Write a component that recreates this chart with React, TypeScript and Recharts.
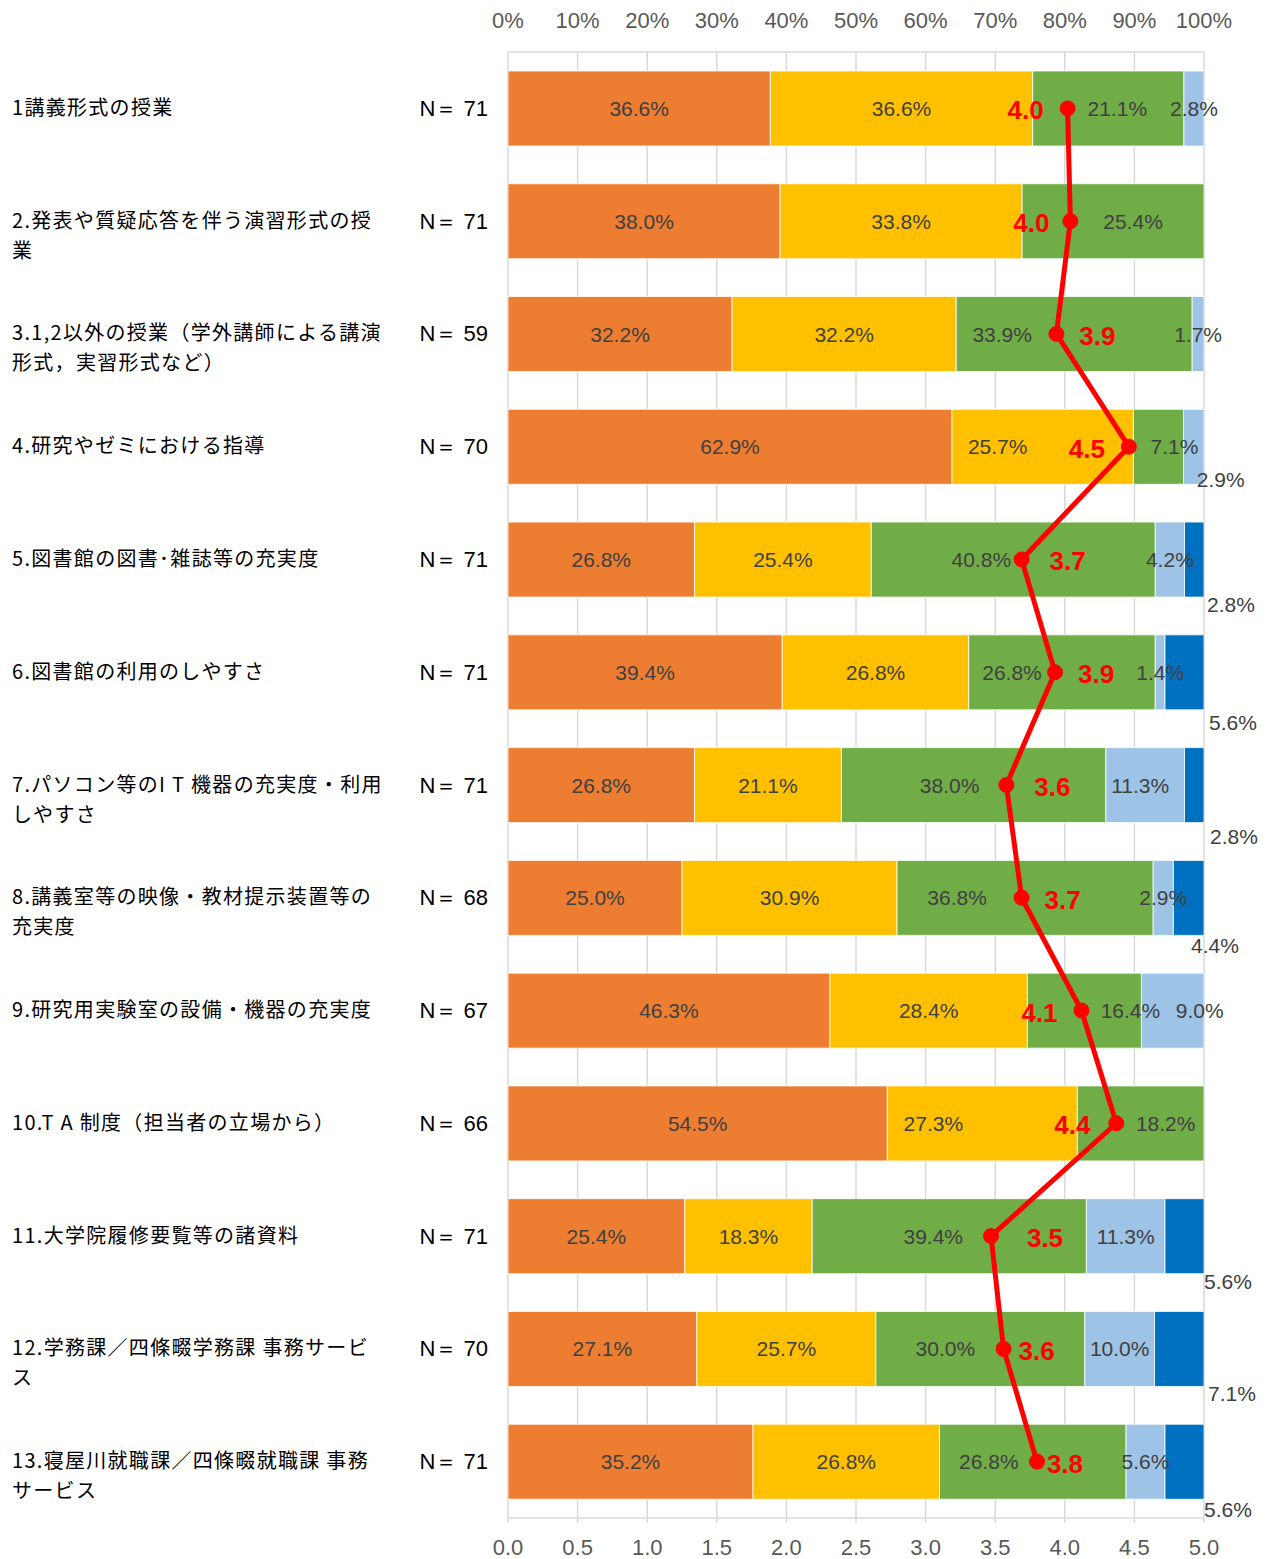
import React from 'react';
import { ComposedChart, Bar, Line, XAxis, YAxis, CartesianGrid, LabelList } from 'recharts';

const categories = [
  '1講義形式の授業',
  '2.発表や質疑応答を伴う演習形式の授\n業',
  '3.1,2以外の授業（学外講師による講演\n形式，実習形式など）',
  '4.研究やゼミにおける指導',
  '5.図書館の図書･雑誌等の充実度',
  '6.図書館の利用のしやすさ',
  '7.パソコン等のI T 機器の充実度・利用\nしやすさ',
  '8.講義室等の映像・教材提示装置等の\n充実度',
  '9.研究用実験室の設備・機器の充実度',
  '10.T A 制度（担当者の立場から）',
  '11.大学院履修要覧等の諸資料',
  '12.学務課／四條畷学務課 事務サービ\nス',
  '13.寝屋川就職課／四條畷就職課 事務\nサービス',
];
const nCounts = [71, 71, 59, 70, 71, 71, 71, 68, 67, 66, 71, 70, 71];
const level5 = [36.6, 38.0, 32.2, 62.9, 26.8, 39.4, 26.8, 25.0, 46.3, 54.5, 25.4, 27.1, 35.2];
const level4 = [36.6, 33.8, 32.2, 25.7, 25.4, 26.8, 21.1, 30.9, 28.4, 27.3, 18.3, 25.7, 26.8];
const level3 = [21.1, 25.4, 33.9, 7.1, 40.8, 26.8, 38.0, 36.8, 16.4, 18.2, 39.4, 30.0, 26.8];
const level2 = [2.8, 0, 1.7, 2.9, 4.2, 1.4, 11.3, 2.9, 9.0, 0, 11.3, 10.0, 5.6];
const level1 = [0, 0, 0, 0, 2.8, 5.6, 2.8, 4.4, 0, 0, 5.6, 7.1, 5.6];
const meanScores = [4.02, 4.04, 3.94, 4.46, 3.69, 3.93, 3.58, 3.69, 4.12, 4.37, 3.47, 3.56, 3.80];
const pctTicks = [0, 0.1, 0.2, 0.3, 0.4, 0.5, 0.6, 0.7, 0.8, 0.9, 1];
const meanTicks = [0, 0.5, 1, 1.5, 2, 2.5, 3, 3.5, 4, 4.5, 5];

// ---- styles ----
const COLORS = ['#ED7D31', '#FFC000', '#70AD47', '#9DC3E6', '#0070C0'];
const NARROW = "'Liberation Sans Narrow', 'Arial Narrow', 'Liberation Sans', sans-serif";
const CJK = "'Noto Sans CJK JP', 'Noto Sans', sans-serif";
const LABEL_COLOR = '#404040';
// manual label nudges (dx, dy) relative to segment centre, as in the original
const NO_SHIFT: number[][] = categories.map(() => [0, 0]);
const SHIFT4: number[][] = [[0,0],[0,0],[0,0],[-45,0],[0,0],[0,0],[0,0],[0,0],[0,0],[-49,0],[0,0],[0,0],[0,0]];
const SHIFT3: number[][] = [[9,0],[20,0],[-72,0],[16,0],[-32,0],[-50,0],[-24,0],[-68,0],[46,0],[25,0],[-16,0],[-35,0],[-44,0]];
const SHIFT2: number[][] = [[0,0],[0,0],[0,0],[27,33],[0,0],[0,0],[-5,0],[0,0],[27,0],[0,0],[0,0],[0,0],[0,0]];
// level1 labels relative to bar end
const SHIFT1: number[][] = [[27,47],[27,47],[27,47],[27,47],[27,45],[29,50],[30,51],[11,48],[27,47],[27,47],[24,45],[28,45],[24,48]];
const MEAN_DX = [-42, -39, 41, -42, 46, 41, 46, 41, -42, -44, 54, 33, 28];

// table for the library: each segment normalised to the row total (100% stacked bar)
const data = categories.map((name, i) => {
  const total = level5[i] + level4[i] + level3[i] + level2[i] + level1[i];
  return {
    name,
    row: i,
    n: nCounts[i],
    l5: level5[i] / total,
    l4: level4[i] / total,
    l3: level3[i] / total,
    l2: level2[i] / total,
    l1: level1[i] / total,
    mean: meanScores[i],
  };
});

const rowKey = (d: any) => d.row;

const getBox = (p: any) => {
  const vb = p.viewBox || {};
  return {
    x: Number(vb.x ?? p.x),
    y: Number(vb.y ?? p.y),
    w: Number(vb.width ?? p.width ?? 0),
    h: Number(vb.height ?? p.height ?? 0),
  };
};

const segText = (x: number, y: number, v: number) => (
  <text x={x} y={y} textAnchor="middle" dominantBaseline="central"
    fontFamily={NARROW} fontSize={21} fill={LABEL_COLOR}>
    {v.toFixed(1)}%
  </text>
);

const makeSegLabel = (arr: number[], shifts: number[][]) => (p: any) => {
  const i = Number(p.value);
  const v = arr[i];
  if (!v) return null;
  const b = getBox(p);
  const [dx, dy] = shifts[i];
  return segText(b.x + b.w / 2 + dx, b.y + b.h / 2 + dy, v);
};

const level1Label = (p: any) => {
  const i = Number(p.value);
  const v = level1[i];
  if (!v) return null;
  const b = getBox(p);
  const [dx, dy] = SHIFT1[i];
  return segText(b.x + b.w + dx, b.y + b.h / 2 + dy, v);
};

const meanLabel = (p: any) => {
  const i = Number(p.value);
  const b = getBox(p);
  return (
    <text x={b.x + MEAN_DX[i]} y={b.y + 2} textAnchor="middle" dominantBaseline="central"
      fontFamily="'Liberation Sans', Arial, sans-serif" fontWeight="bold" fontSize={26} fill="#FF0000">
      {meanScores[i].toFixed(1)}
    </text>
  );
};

const TopTick = (p: any) => (
  <text x={p.x} y={20} textAnchor="middle" dominantBaseline="central" fontFamily={NARROW} fontSize={22} fill="#595959">
    {Math.round(p.payload.value * 100)}%
  </text>
);

const BottomTick = (p: any) => (
  <text x={p.x} y={1547} textAnchor="middle" dominantBaseline="central" fontFamily={NARROW} fontSize={22} fill="#595959">
    {Number(p.payload.value).toFixed(1)}
  </text>
);

const CatTick = (p: any) => {
  const y = Number(p.y);
  const idx = p.payload?.index ?? p.index;
  const lines = String(p.payload.value).split('\n');
  return (
    <g>
      {lines.map((l, k) => (
        <text key={k} x={12} y={y - 2 + k * 30} dominantBaseline="central" fontFamily={CJK} fontSize={20}
          letterSpacing={1.3} fill="#000">
          {l}
        </text>
      ))}
      <text x={488} y={y} textAnchor="end" dominantBaseline="central" fontFamily="'Liberation Sans', Arial, sans-serif"
        fontSize={22} fill="#000">
        N＝ {nCounts[idx]}
      </text>
    </g>
  );
};

export default function App() {
  return (
    <div style={{ position: 'absolute', left: 0, top: 0, width: 1266, height: 1559, background: '#fff' }}>
      <ComposedChart width={1266} height={1559} data={data} layout="vertical"
        margin={{ top: 0, right: 62, bottom: 0, left: 0 }} barSize={75}>
        <CartesianGrid xAxisId="pct" horizontal={false} stroke="#d9d9d9" strokeWidth={1.5} />
        <XAxis xAxisId="pct" type="number" orientation="top" domain={[0, 1]} ticks={pctTicks} height={52}
          allowDataOverflow axisLine={{ stroke: '#d9d9d9', strokeWidth: 1.5 }} tickLine={false} tick={<TopTick />} interval={0} />
        <XAxis xAxisId="mean" type="number" orientation="bottom" domain={[0, 5]} ticks={meanTicks} height={41}
          allowDataOverflow axisLine={{ stroke: '#d9d9d9', strokeWidth: 1.5 }} tickLine={{ stroke: '#d9d9d9', strokeWidth: 1.5 }} tickSize={5}
          tick={<BottomTick />} interval={0} />
        <YAxis type="category" dataKey="name" width={508} axisLine={false} tickLine={false} tick={<CatTick />} interval={0} />
        <Bar xAxisId="pct" dataKey="l5" stackId="s" fill={COLORS[0]} stroke="#fff" strokeWidth={0.8} isAnimationActive={false}>
          <LabelList dataKey={rowKey} content={makeSegLabel(level5, NO_SHIFT)} />
        </Bar>
        <Bar xAxisId="pct" dataKey="l4" stackId="s" fill={COLORS[1]} stroke="#fff" strokeWidth={0.8} isAnimationActive={false}>
          <LabelList dataKey={rowKey} content={makeSegLabel(level4, SHIFT4)} />
        </Bar>
        <Bar xAxisId="pct" dataKey="l3" stackId="s" fill={COLORS[2]} stroke="#fff" strokeWidth={0.8} isAnimationActive={false}>
          <LabelList dataKey={rowKey} content={makeSegLabel(level3, SHIFT3)} />
        </Bar>
        <Bar xAxisId="pct" dataKey="l2" stackId="s" fill={COLORS[3]} stroke="#fff" strokeWidth={0.8} isAnimationActive={false}>
          <LabelList dataKey={rowKey} content={makeSegLabel(level2, SHIFT2)} />
        </Bar>
        <Bar xAxisId="pct" dataKey="l1" stackId="s" fill={COLORS[4]} stroke="#fff" strokeWidth={0.8} isAnimationActive={false}>
          <LabelList dataKey={rowKey} content={level1Label} />
        </Bar>
        <Line xAxisId="mean" dataKey="mean" stroke="#FF0000" strokeWidth={5}
          dot={{ r: 7.5, fill: '#FF0000', stroke: '#FF0000', strokeWidth: 1 }} isAnimationActive={false}>
          <LabelList dataKey={rowKey} content={meanLabel} />
        </Line>
      </ComposedChart>
    </div>
  );
}
